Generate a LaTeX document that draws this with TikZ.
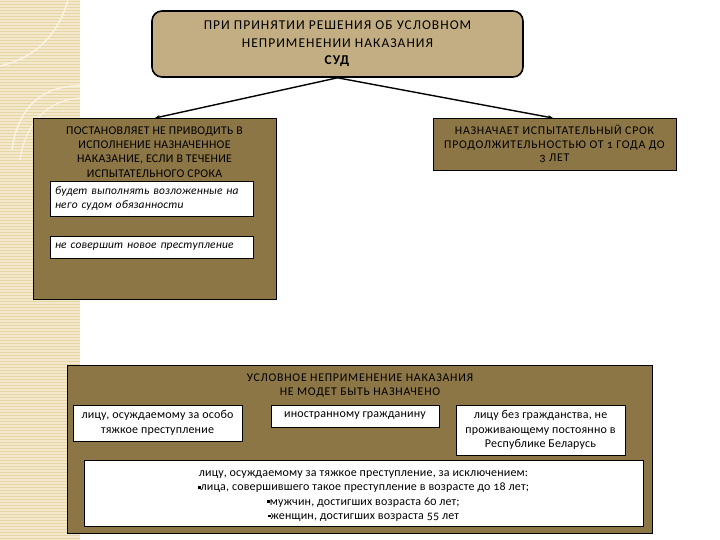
\documentclass[tikz,border=0pt]{standalone}
\usepackage{fontspec}
\setmainfont{Carlito}[Numbers=OldStyle, LetterSpace=1.5]
\newfontfamily\capsT{Carlito}[Numbers=OldStyle, LetterSpace=7.5]
\newfontfamily\capsW{Carlito}[Numbers=OldStyle, LetterSpace=6.5]
\newfontfamily\capsN{Carlito}[Numbers=OldStyle, LetterSpace=2.5]
\usetikzlibrary{arrows.meta}
\definecolor{stripbg}{HTML}{F3E8CB}
\definecolor{stripln}{HTML}{E6D6A6}
\definecolor{swirlc}{HTML}{FAF3E2}
\definecolor{toptan}{HTML}{C2AE82}
\definecolor{olive}{HTML}{8C7646}
\newcommand{\sqb}{\rule[0.35ex]{2.6pt}{2.6pt}}
\begin{document}
\begin{tikzpicture}[x=1pt,y=-1pt,
  topbox/.style={draw=black, line width=1.6pt, rounded corners=10pt, fill=toptan, align=center, inner sep=0pt, font=\capsT\fontsize{13.5}{17.5}\selectfont},
  brownbox/.style={draw=black, line width=0.9pt, fill=olive, align=center, inner sep=0pt},
  whitebox/.style={draw=black, line width=0.9pt, fill=white, inner sep=0pt},
  lowA/.style={font=\fontsize{12}{14.8}\selectfont, align=center},
  conn/.style={line width=1.4pt, -{Stealth[length=5pt,width=4pt]}}]
\useasboundingbox (0,0) rectangle (720,540);
\fill[white] (0,0) rectangle (720,540);
% decorative strip
\fill[stripbg] (0,0) rectangle (80,540);
\foreach \yy in {1.5,4.5,...,540} \draw[stripln, line width=0.8pt] (0,\yy) -- (80,\yy);
\draw[swirlc, line width=1.5pt] (68,0) .. controls (58,35) and (35,58) .. (0,66);
\draw[swirlc, line width=1.5pt] (12,150) .. controls (18,105) and (45,85) .. (80,86);
\draw[swirlc, line width=1.2pt] (20,160) .. controls (26,120) and (50,100) .. (80,98);
% top node
\node[topbox, minimum width=371pt, minimum height=66pt] (court) at (337.5,44)
  {ПРИ ПРИНЯТИИ РЕШЕНИЯ ОБ УСЛОВНОМ\\НЕПРИМЕНЕНИИ НАКАЗАНИЯ\\\textbf{СУД}};
% left big box
\node[brownbox, minimum width=243pt, minimum height=181pt] (lbox) at (154.5,208.5) {};
\node[align=center, inner sep=0pt, anchor=north, font=\capsN\fontsize{11.8}{14.3}\selectfont] (ltext) at (154.5,126.5)
  {ПОСТАНОВЛЯЕТ НЕ ПРИВОДИТЬ В\\ИСПОЛНЕНИЕ НАЗНАЧЕННОЕ\\НАКАЗАНИЕ, ЕСЛИ В ТЕЧЕНИЕ\\ИСПЫТАТЕЛЬНОГО СРОКА};
\node[whitebox, minimum width=203pt, minimum height=35pt, text width=193pt, align=left,
  font=\fontsize{11.5}{14}\selectfont\itshape] (w1) at (151.5,198.5)
  {будет выполнять возложенные на\\него судом обязанности};
\node[whitebox, minimum width=203pt, minimum height=22pt, text width=193pt, align=left,
  font=\fontsize{11.5}{14}\selectfont\itshape] (w2) at (151.5,247)
  {не совершит новое преступление};
% right box
\node[brownbox, minimum width=243pt, minimum height=52pt, font=\capsW\fontsize{11.8}{13.5}\selectfont] (rbox) at (554.5,144)
  {НАЗНАЧАЕТ ИСПЫТАТЕЛЬНЫЙ СРОК\\ПРОДОЛЖИТЕЛЬНОСТЬЮ ОТ 1 ГОДА ДО\\3 ЛЕТ};
% connectors
\coordinate (lend) at (155,118);
\coordinate (rend) at (553,118);
\draw[conn] (court.south) -- (lend);
\draw[conn] (court.south) -- (rend);
% bottom big box
\node[brownbox, minimum width=585pt, minimum height=168pt] (bbox) at (359.5,449) {};
\node[align=center, inner sep=0pt, font=\capsW\fontsize{11.8}{14}\selectfont] (btitle) at (360,386)
  {УСЛОВНОЕ НЕПРИМЕНЕНИЕ НАКАЗАНИЯ\\НЕ МОДЕТ БЫТЬ НАЗНАЧЕНО};
\node[whitebox, lowA, minimum width=169pt, minimum height=36pt] (b1) at (157.5,423)
  {лицу, осуждаемому за особо\\тяжкое преступление};
\node[whitebox, lowA, minimum width=168pt, minimum height=22pt] (b2) at (355,416)
  {иностранному гражданину};
\node[whitebox, lowA, minimum width=169pt, minimum height=50pt] (b3) at (540.5,430)
  {лицу без гражданства, не\\проживающему постоянно в\\Республике Беларусь};
\node[whitebox, minimum width=559pt, minimum height=66pt] (b4) at (363.5,493) {};
\node[align=center, inner sep=0pt, font=\fontsize{12}{14.2}\selectfont] (b4t) at (363.5,496)
  {лицу, осуждаемому за тяжкое преступление, за исключением:\\
   \sqb лица, совершившего такое преступление в возрасте до 18 лет;\\
   \sqb мужчин, достигших возраста 60 лет;\\
   \sqb женщин, достигших возраста 55 лет};
\end{tikzpicture}
\end{document}
